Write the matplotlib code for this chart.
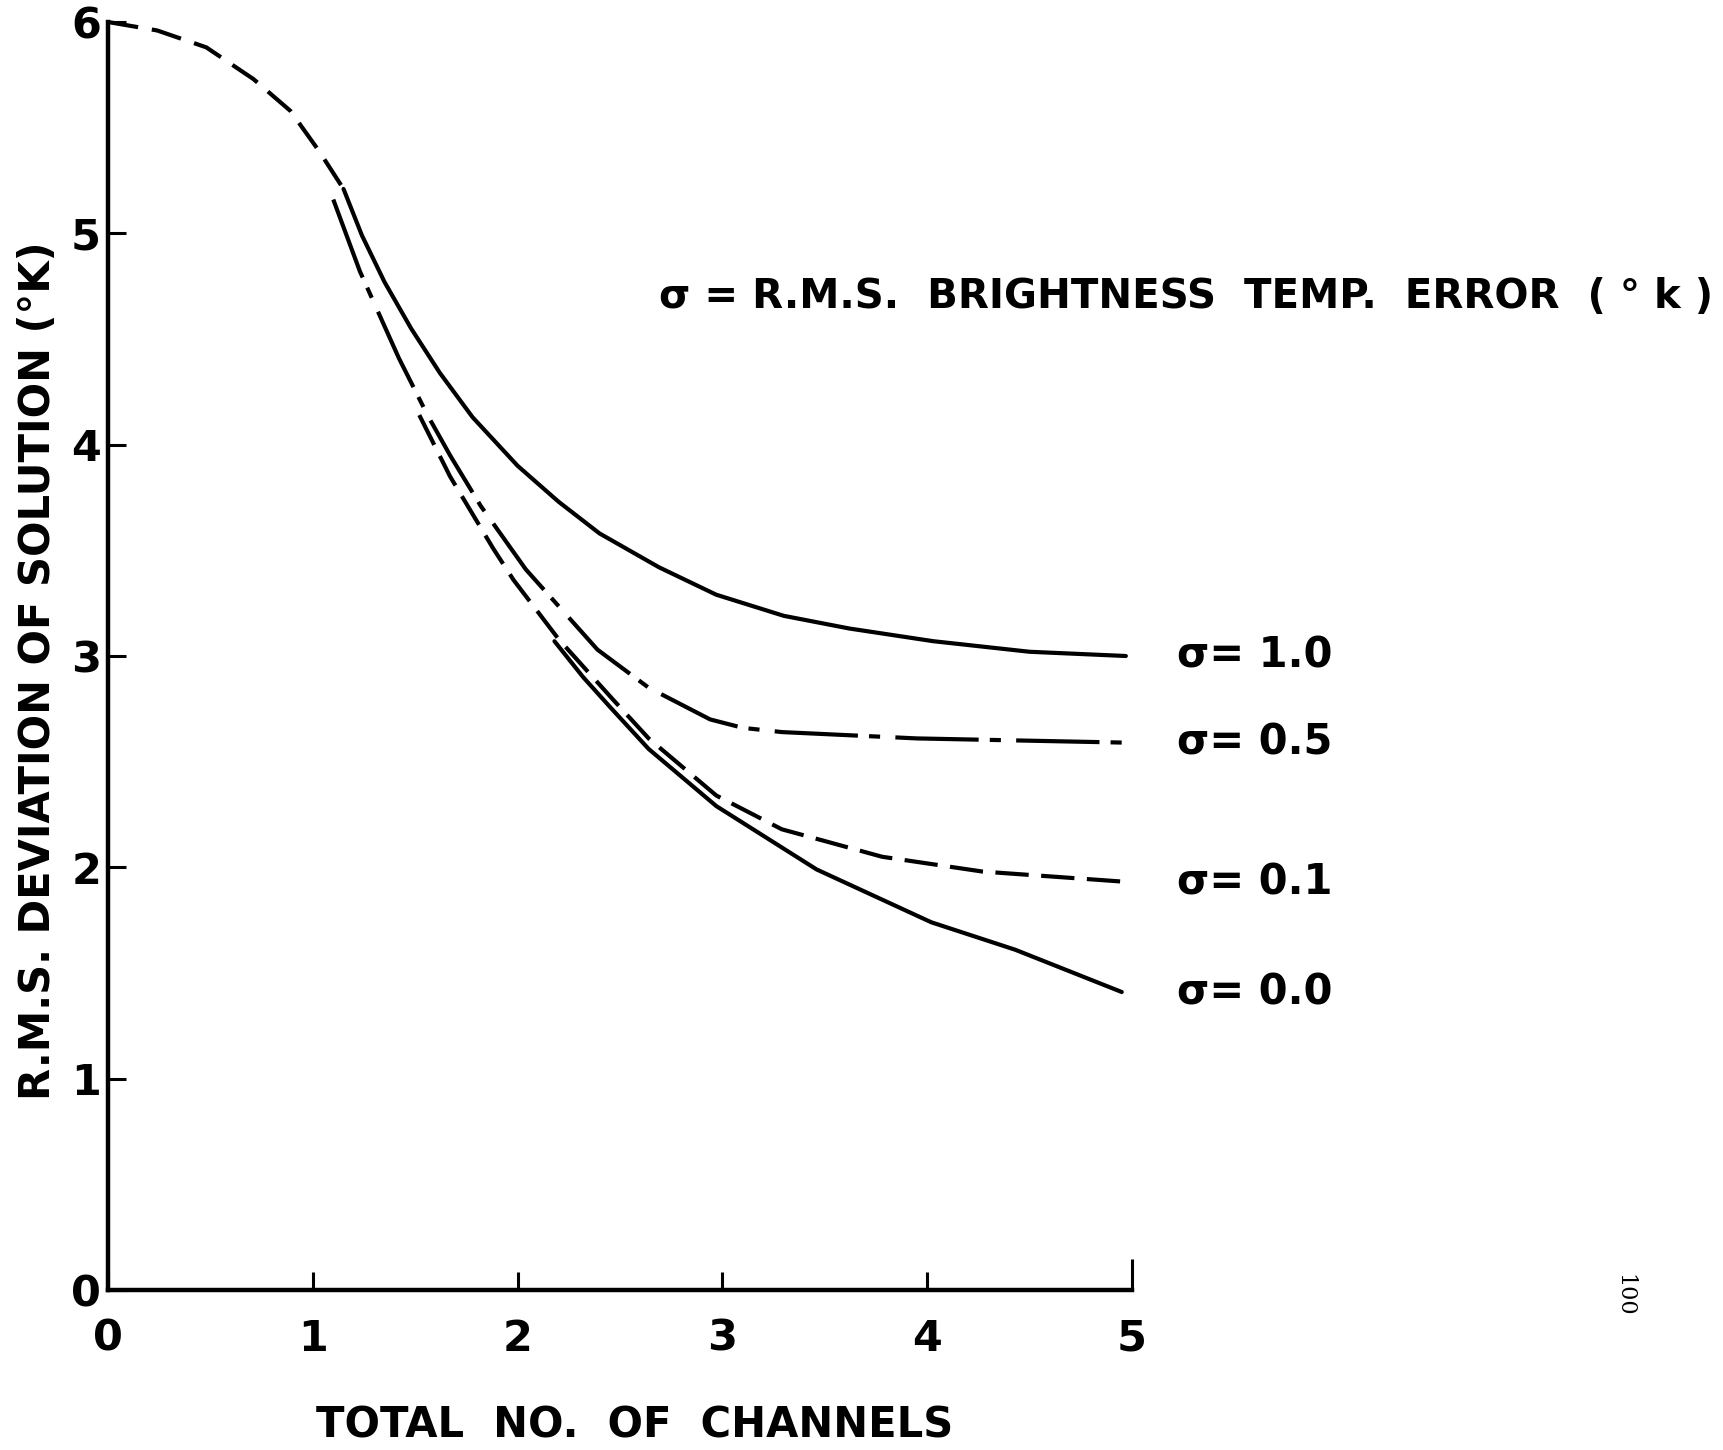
import matplotlib.pyplot as plt

plt.rcParams['font.family'] = ['DejaVu Sans']
plt.rcParams['font.weight'] = 'bold'
plt.rcParams['lines.scale_dashes'] = False

# shared dashed section from x = 0 down to where the curves split
lead_x = [0.0, 0.24, 0.48, 0.71, 0.89, 1.03, 1.15]
lead_y = [6.0, 5.96, 5.88, 5.73, 5.58, 5.39, 5.21]

# sigma = 1.0 (solid)
s10_x = [1.15, 1.24, 1.35, 1.48, 1.62, 1.78, 2.0, 2.2, 2.4, 2.69, 2.97, 3.3, 3.62, 4.03, 4.5, 4.97]
s10_y = [5.21, 4.99, 4.77, 4.55, 4.34, 4.13, 3.90, 3.73, 3.58, 3.42, 3.29, 3.19, 3.13, 3.07, 3.02, 3.00]

# sigma = 0.5 (dash-dot)
s05_x = [1.10, 1.23, 1.42, 1.56, 1.67, 1.82, 2.04, 2.39, 2.64, 2.94, 3.1, 3.29, 3.95, 4.97]
s05_y = [5.16, 4.82, 4.41, 4.14, 3.95, 3.71, 3.41, 3.03, 2.85, 2.70, 2.66, 2.64, 2.61, 2.59]

# sigma = 0.1 (dashed)
s01_x = [1.52, 1.67, 1.88, 1.98, 2.20, 2.46, 2.64, 2.97, 3.29, 3.78, 4.27, 4.99]
s01_y = [4.14, 3.85, 3.51, 3.36, 3.08, 2.80, 2.61, 2.34, 2.18, 2.05, 1.98, 1.93]

# sigma = 0.0 (solid)
s00_x = [2.18, 2.32, 2.45, 2.64, 2.97, 3.46, 4.02, 4.43, 4.95]
s00_y = [3.07, 2.90, 2.76, 2.56, 2.29, 1.99, 1.74, 1.61, 1.41]

curve_labels = ['σ= 1.0', 'σ= 0.5', 'σ= 0.1', 'σ= 0.0']
tick_vals = [0, 1, 2, 3, 4, 5]
ytick_vals = [0, 1, 2, 3, 4, 5, 6]

W, H = 1724, 1450
fig = plt.figure(figsize=(W / 100, H / 100), dpi=100)
ax = fig.add_axes([108 / W, 1 - 1290 / H, 1024 / W, 1268 / H])

lw = 3.0
ax.plot(lead_x, lead_y, c='k', lw=lw, ls=(0, (22, 10)), clip_on=False)
ax.plot(s10_x, s10_y, c='k', lw=lw, solid_capstyle='round', solid_joinstyle='round')
ax.plot(s05_x, s05_y, c='k', lw=lw, ls=(0, (60, 8, 8, 11)))
ax.plot(s01_x, s01_y, c='k', lw=lw, ls=(0, (24, 9)))
ax.plot(s00_x, s00_y, c='k', lw=lw, solid_capstyle='round', solid_joinstyle='round')

# curve labels sit just past the right end of each line
ends = [s10_y[-1], s05_y[-1], s01_y[-1], s00_y[-1]]
for lab, yv in zip(curve_labels, ends):
    ax.text(5.22, yv, lab, fontsize=30, va='center', ha='left', clip_on=False)

ax.text(2.69, 4.70, 'σ = R.M.S.  BRIGHTNESS  TEMP.  ERROR  ( ° k )',
        fontsize=29, va='center', ha='left', clip_on=False)

ax.set_xlim(0, 5)
ax.set_ylim(0, 6)
for side in ['top', 'right']:
    ax.spines[side].set_visible(False)
for side in ['left', 'bottom']:
    ax.spines[side].set_linewidth(3.2)

ax.set_xticks(tick_vals)
ax.set_xticklabels([str(v) for v in tick_vals])
ax.set_yticks(ytick_vals)
ax.set_yticklabels([str(v) for v in ytick_vals])
ax.tick_params(axis='x', direction='in', length=13, width=2.2, pad=20, labelsize=31)
ax.tick_params(axis='y', direction='in', length=13, width=2.2, pad=5, labelsize=31)
ax.xaxis.get_major_ticks()[-1].tick1line.set_markersize(22)

fig.text(38 / W, 1 - 671 / H, 'R.M.S. DEVIATION OF SOLUTION (°K)', fontsize=30,
         rotation=90, ha='center', va='center')
fig.text(635 / W, 1 - 1426 / H, 'TOTAL  NO.  OF  CHANNELS', fontsize=30,
         ha='center', va='center')
fig.text(1624 / W, 1 - 1295 / H, '100', fontsize=16, family='DejaVu Serif',
         weight='normal', rotation=-90, ha='center', va='center')

fig.savefig('out.png', dpi=100, facecolor='white')
